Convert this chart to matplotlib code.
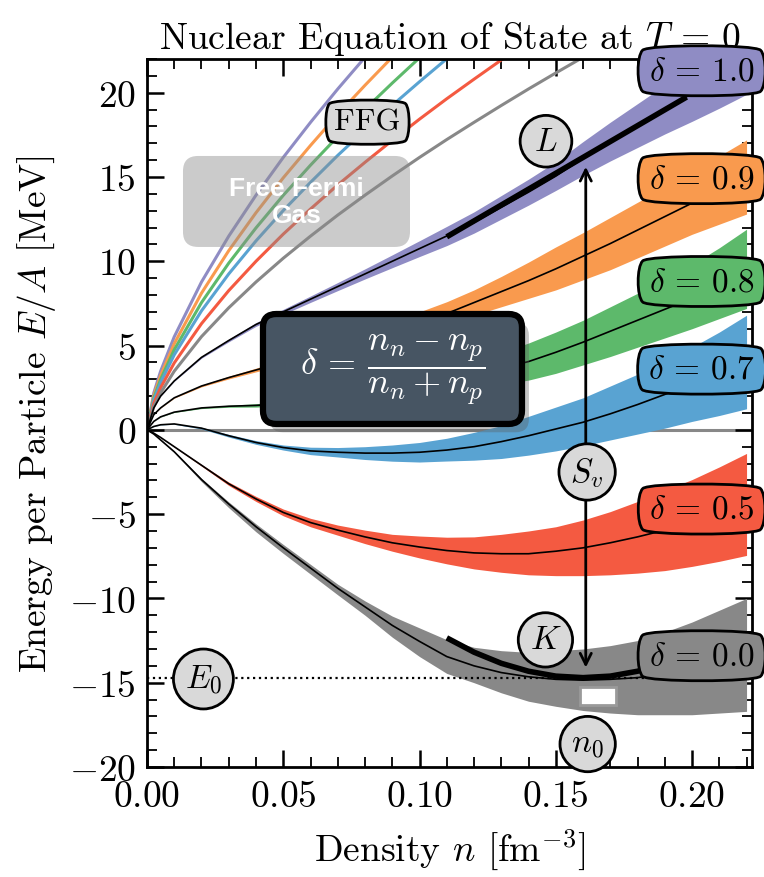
import matplotlib
matplotlib.use("Agg")
import matplotlib.pyplot as plt
from matplotlib.ticker import MultipleLocator
from matplotlib.patches import FancyBboxPatch
from matplotlib import patheffects as pe

plt.rcParams["font.family"] = "serif"
plt.rcParams["font.serif"] = ["cmr10"]
plt.rcParams["mathtext.fontset"] = "cm"
plt.rcParams["axes.formatter.use_mathtext"] = True

# density grid [fm^-3]
n_grid = [0.0, 0.0025, 0.005, 0.01, 0.02, 0.03, 0.04, 0.05, 0.06, 0.07, 0.08, 0.09, 0.10,
          0.11, 0.12, 0.13, 0.14, 0.15, 0.16, 0.17, 0.18, 0.19, 0.20, 0.21, 0.22]

deltas = ["1.0", "0.9", "0.8", "0.7", "0.5", "0.0"]
colors = ["#8f8cc4", "#f99a4e", "#5db96b", "#59a3d2", "#f45a41", "#888888"]

# interacting bands (upper edge, lower edge, central line) [MeV]
band_hi = {
    "1.0": [0, 1.3, 2.01, 2.92, 4.35, 5.38, 6.36, 7.15, 7.94, 8.74, 9.55, 10.38, 11.22, 12.07, 12.93, 13.9, 14.87, 15.9, 17.1, 18.25, 19.35, 20.45, 21.6, 22.72, 23.9],
    "0.9": [0, 0.9, 1.31, 1.92, 2.65, 3.18, 3.66, 4.16, 4.67, 5.25, 5.85, 6.45, 7.0, 7.6, 8.3, 9.1, 9.95, 10.85, 11.7, 12.6, 13.5, 14.4, 15.3, 16.25, 17.2],
    "0.8": [0, 0.5, 0.78, 1.07, 1.34, 1.46, 1.55, 1.69, 1.9, 2.17, 2.45, 2.8, 3.15, 3.65, 4.15, 4.6, 5.15, 5.8, 6.5, 7.3, 8.1, 8.9, 9.8, 10.8, 11.9],
    "0.7": [0, 0.21, 0.31, 0.37, 0.15, -0.27, -0.64, -0.9, -1.03, -1.05, -1.0, -0.9, -0.75, -0.5, -0.15, 0.25, 0.8, 1.35, 1.9, 2.6, 3.3, 4.1, 4.9, 5.8, 6.8],
    "0.5": [0, -0.2, -0.44, -0.98, -2.05, -3.1, -3.95, -4.7, -5.25, -5.65, -5.95, -6.2, -6.3, -6.37, -6.35, -6.2, -6.0, -5.75, -5.35, -4.85, -4.25, -3.6, -2.95, -2.2, -1.4],
    "0.0": [0, -0.25, -0.59, -1.27, -2.88, -4.28, -5.58, -6.8, -7.98, -9.16, -10.15, -11.05, -11.75, -12.45, -12.9, -13.1, -13.2, -13.1, -13.0, -12.8, -12.5, -12.0, -11.4, -10.7, -10.0],
}
band_lo = {
    "1.0": [0, 1.3, 1.99, 2.88, 4.25, 5.22, 6.14, 6.85, 7.56, 8.26, 8.95, 9.62, 10.28, 10.93, 11.67, 12.5, 13.33, 14.2, 15.1, 15.95, 16.75, 17.55, 18.3, 19.08, 19.9],
    "0.9": [0, 0.9, 1.29, 1.88, 2.55, 3.02, 3.44, 3.84, 4.23, 4.65, 5.05, 5.45, 5.8, 6.2, 6.8, 7.3, 7.8, 8.3, 8.9, 9.5, 10.2, 10.9, 11.6, 12.2, 12.8],
    "0.8": [0, 0.5, 0.76, 1.03, 1.26, 1.34, 1.35, 1.41, 1.5, 1.63, 1.75, 1.9, 2.05, 2.25, 2.45, 2.7, 2.95, 3.35, 3.85, 4.35, 4.9, 5.45, 6.0, 6.6, 7.2],
    "0.7": [0, 0.19, 0.29, 0.33, 0.05, -0.43, -0.86, -1.2, -1.47, -1.61, -1.76, -1.86, -1.91, -1.85, -1.8, -1.7, -1.5, -1.25, -0.95, -0.6, -0.25, 0.1, 0.5, 0.85, 1.25],
    "0.5": [0, -0.2, -0.46, -1.02, -2.15, -3.3, -4.25, -5.1, -5.75, -6.25, -6.75, -7.2, -7.6, -7.95, -8.25, -8.45, -8.6, -8.65, -8.65, -8.6, -8.5, -8.35, -8.1, -7.8, -7.45],
    "0.0": [0, -0.25, -0.62, -1.35, -3.07, -4.62, -6.05, -7.33, -8.56, -9.79, -11.0, -12.3, -13.45, -14.45, -15.0, -15.6, -16.1, -16.4, -16.65, -16.8, -16.9, -16.9, -16.9, -16.8, -16.7],
}
band_mid = {
    "1.0": [0, 1.3, 2.0, 2.9, 4.3, 5.3, 6.25, 7.0, 7.75, 8.5, 9.25, 10.0, 10.75, 11.5, 12.3, 13.2, 14.1, 15.05, 16.1, 17.1, 18.05, 19.0, 19.95, 20.9, 21.9],
    "0.9": [0, 0.9, 1.3, 1.9, 2.6, 3.1, 3.55, 4.0, 4.45, 4.95, 5.45, 5.95, 6.4, 6.9, 7.55, 8.2, 8.85, 9.55, 10.3, 11.05, 11.85, 12.65, 13.45, 14.25, 15.05],
    "0.8": [0, 0.5, 0.77, 1.05, 1.3, 1.4, 1.45, 1.55, 1.7, 1.9, 2.1, 2.35, 2.6, 2.95, 3.3, 3.65, 4.05, 4.6, 5.2, 5.85, 6.5, 7.15, 7.8, 8.6, 9.4],
    "0.7": [0, 0.2, 0.3, 0.35, 0.1, -0.35, -0.75, -1.05, -1.25, -1.33, -1.38, -1.38, -1.33, -1.2, -1.0, -0.7, -0.35, 0.05, 0.45, 0.95, 1.5, 2.1, 2.7, 3.3, 4.0],
    "0.5": [0, -0.2, -0.45, -1.0, -2.1, -3.2, -4.1, -4.9, -5.5, -5.95, -6.35, -6.7, -6.95, -7.16, -7.3, -7.35, -7.35, -7.2, -7.0, -6.7, -6.35, -5.95, -5.5, -5.0, -4.45],
    "0.0": [0, -0.25, -0.6, -1.3, -2.95, -4.4, -5.75, -7.0, -8.2, -9.4, -10.5, -11.6, -12.55, -13.45, -14.0, -14.4, -14.65, -14.8, -14.85, -14.8, -14.7, -14.45, -14.15, -13.75, -13.35],
}

# free Fermi gas curves (until they leave the plot)
ffg = {
    "1.0": [0, 2.19, 3.48, 5.52, 8.77, 11.49, 13.92, 16.16, 18.24, 20.22, 22.10, 23.9],
    "0.9": [0, 2.03, 3.22, 5.11, 8.11, 10.63, 12.88, 14.95, 16.87, 18.71, 20.44, 22.11, 23.73],
    "0.8": [0, 1.89, 2.99, 4.75, 7.55, 9.89, 11.98, 13.91, 15.70, 17.40, 19.02, 20.57, 22.07, 23.52],
    "0.7": [0, 1.76, 2.80, 4.45, 7.06, 9.25, 11.21, 13.01, 14.68, 16.28, 17.79, 19.25, 20.65, 22.01, 23.31],
    "0.5": [0, 1.57, 2.50, 3.97, 6.30, 8.26, 10.00, 11.61, 13.10, 14.53, 15.87, 17.17, 18.43, 19.64, 20.80, 21.94, 23.06],
    "0.0": [0, 1.38, 2.19, 3.48, 5.53, 7.24, 8.77, 10.18, 11.49, 12.74, 13.92, 15.06, 16.16, 17.22, 18.24, 19.24, 20.22, 21.17, 22.1, 23.0],
}

# empirical parameters
n_sat = 0.161
E_sat = -14.7
sat_box_n = [0.159, 0.172]
sat_box_E = [-16.3, -15.27]
L_n = [0.110, 0.198]
L_E = [11.45, 19.74]
K_n = [0.11, 0.12, 0.13, 0.14, 0.15, 0.16, 0.17, 0.18, 0.19]
K_E = [-12.34, -13.19, -13.85, -14.32, -14.61, -14.7, -14.61, -14.32, -13.85]
label_E = [21.3, 14.9, 8.8, 3.6, -4.7, -13.4]

FS = 27

fig = plt.figure(figsize=(7.64, 8.78), dpi=100)
ax = fig.add_axes([0.1924, 0.1253, 0.7919, 0.8064])
asp = 605 / 708  # axes width/height in pixels, keeps rounded corners round

ax.axhline(0, color="#888888", lw=2.2, zorder=1)

for d, c in zip(deltas, colors):
    ax.plot(n_grid[:len(ffg[d])], ffg[d], color=c, lw=2.2, zorder=2)
    ax.fill_between(n_grid, band_lo[d], band_hi[d], color=c, lw=0, zorder=3)
    ax.plot(n_grid, band_mid[d], color="k", lw=1.2, zorder=4)

ax.plot([0, 0.2], [E_sat, E_sat], color="k", ls=":", lw=1.6, zorder=4.5)
ax.plot(L_n, L_E, color="k", lw=4, solid_capstyle="butt", zorder=5)
ax.plot(K_n, K_E, color="k", lw=4, solid_capstyle="butt", zorder=5)
ax.add_patch(plt.Rectangle((sat_box_n[0], sat_box_E[0]), sat_box_n[1] - sat_box_n[0],
                           sat_box_E[1] - sat_box_E[0], fc="white", ec="#9a9a9a", lw=2, zorder=5))

ax.annotate("", xy=(n_sat, 15.6), xytext=(n_sat, -14.1),
            arrowprops=dict(arrowstyle="<->,head_length=0.8,head_width=0.4", lw=2,
                            color="k", shrinkA=0, shrinkB=0), zorder=6)

circ = dict(boxstyle="circle,pad=0.34", fc="#d9d9d9", ec="k", lw=2)
for txt, x, y in [(r"$L$", 0.1464, 17.12), (r"$K$", 0.1462, -12.46), (r"$S_v$", 0.1615, -2.5),
                  (r"$n_0$", 0.1617, -18.64), (r"$E_0$", 0.0207, -14.78)]:
    ax.text(x, y, txt, fontsize=24, ha="center", va="center", bbox=circ, zorder=7, clip_on=False)

ax.text(0.0809, 18.25, "FFG", fontsize=23, ha="center", va="center", zorder=7,
        bbox=dict(boxstyle="round4,pad=0.3", fc="#d9d9d9", ec="k", lw=2))

# Free Fermi Gas box
ax.add_patch(FancyBboxPatch((0.0595, 0.7345), 0.3752, 0.1285, transform=ax.transAxes,
                            boxstyle="round,pad=0,rounding_size=0.025", mutation_aspect=asp,
                            fc=(0.55, 0.55, 0.55, 0.45), ec="none", zorder=7))
ax.text(0.247, 0.799, "Free Fermi\nGas", transform=ax.transAxes, family="Liberation Sans",
        weight="bold", color="white", fontsize=19, ha="center", va="center",
        multialignment="center", linespacing=1.15, zorder=7.5)

# delta definition box
fb = FancyBboxPatch((0.1917, 0.4845), 0.4281, 0.1553, transform=ax.transAxes,
                    boxstyle="round,pad=0,rounding_size=0.022", mutation_aspect=asp,
                    fc="#475563", ec="k", lw=4.5, zorder=8)
fb.set_path_effects([pe.SimplePatchShadow(offset=(5, -6), shadow_rgbFace="0.35", alpha=0.35),
                     pe.Normal()])
ax.add_patch(fb)
ax.text(0.4058, 0.562, r"$\delta\, = \,\dfrac{n_n - n_p}{n_n + n_p}$", transform=ax.transAxes,
        color="white", fontsize=26, ha="center", va="center", zorder=8.5)

for d, c, y in zip(deltas, colors, label_E):
    ax.text(0.2035, y, r"$\delta$ = " + d, fontsize=24, ha="center", va="center", zorder=9,
            clip_on=False, bbox=dict(boxstyle="round4,pad=0.36", fc=c, ec="k", lw=2))

ax.set_xlim(0, 0.222)
ax.set_ylim(-20, 22)
ax.xaxis.set_major_locator(MultipleLocator(0.05))
ax.xaxis.set_minor_locator(MultipleLocator(0.01))
ax.yaxis.set_major_locator(MultipleLocator(5))
ax.yaxis.set_minor_locator(MultipleLocator(1))
ax.tick_params(which="both", direction="in", top=True, right=True, labelsize=FS)
ax.tick_params(which="major", length=12, width=1.8)
ax.tick_params(which="minor", length=7, width=1.3)
ax.tick_params(axis="x", which="major", pad=9)
ax.tick_params(axis="y", which="major", pad=8)
for s in ax.spines.values():
    s.set_linewidth(2)

ax.set_title(r"Nuclear Equation of State at $T$ = 0", fontsize=FS, pad=8)
ax.set_xlabel(r"Density $n$ [fm$^{-3}$]", fontsize=FS, labelpad=10)
ax.set_ylabel(r"Energy per Particle $E/A$ [MeV]", fontsize=FS, labelpad=8)

fig.savefig("out.png", dpi=100)
